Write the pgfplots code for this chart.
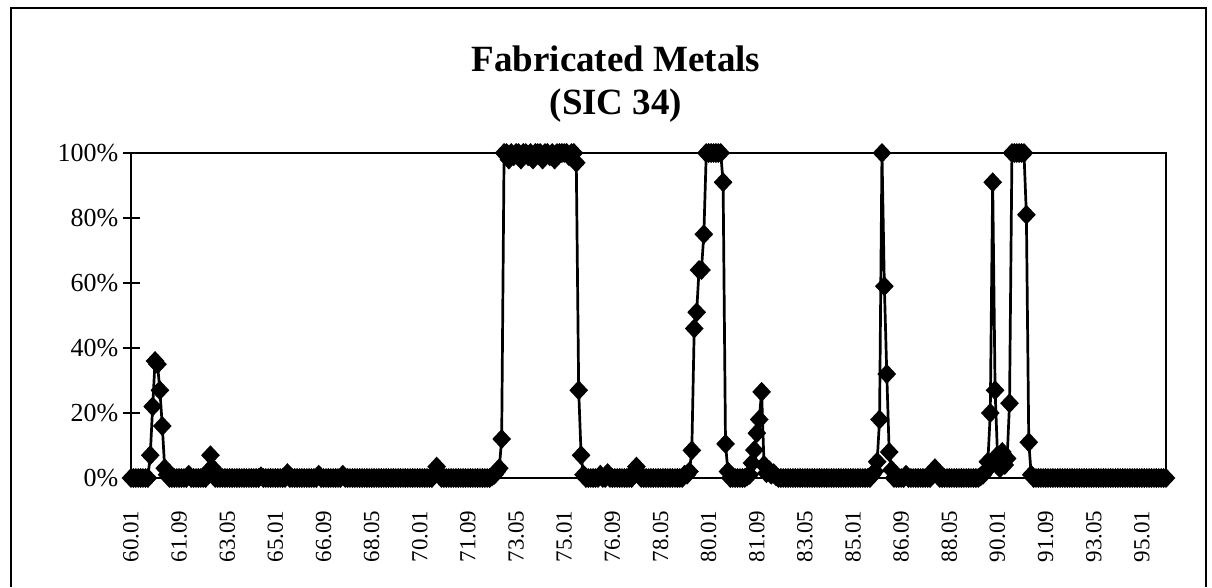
\documentclass[border=0pt]{standalone}
\usepackage{fontspec}
\setmainfont{Liberation Serif}
\usepackage{pgfplots}
\usepackage{pgfplotstable}
\pgfplotsset{compat=1.18}

% monthly share, 60.01 .. 95.11 (one value per month)
\pgfplotstableread[row sep=\\]{
v\\
0\\0\\0\\0\\0\\0\\0\\0\\7\\22\\
36\\35\\27\\16\\3\\1\\0\\0\\0\\0\\
0\\0\\0\\0\\1\\0\\0\\0\\0\\0\\
0\\0\\2\\7\\3\\0\\0\\0\\0\\0\\
0\\0\\0\\0\\0\\0\\0\\0\\0\\0\\
0\\0\\0\\0\\0.5\\0\\0\\0\\0\\0\\
0\\0\\0\\0\\0\\1.5\\0\\0\\0\\0\\
0\\0\\0\\0\\0\\0\\0\\0\\1\\0\\
0\\0\\0\\0\\0\\0\\0\\0\\1\\0\\
0\\0\\0\\0\\0\\0\\0\\0\\0\\0\\
0\\0\\0\\0\\0\\0\\0\\0\\0\\0\\
0\\0\\0\\0\\0\\0\\0\\0\\0\\0\\
0\\0\\0\\0\\0\\0\\1.5\\3.5\\1.5\\0\\
0\\0\\0\\0\\0\\0\\0\\0\\0\\0\\
0\\0\\0\\0\\0\\0\\0\\0\\0\\0\\
0.5\\1\\2\\3\\12\\100\\100\\98\\100\\99\\
100\\100\\98\\100\\100\\99\\100\\98\\100\\100\\
100\\98\\100\\100\\99\\100\\98\\100\\100\\100\\
100\\100\\99\\100\\100\\97\\27\\7\\1\\0\\
0\\0\\0\\0\\0\\1\\0\\0\\1.5\\0\\
0\\0\\0\\0\\0\\0\\0\\0\\0\\2\\
3.5\\1.5\\0\\0\\0\\0\\0\\0\\0\\0\\
0\\0\\0\\0\\0\\0\\0\\0\\0\\0\\
1\\1\\2\\8.5\\46\\51\\64\\64\\75\\100\\
100\\100\\100\\100\\100\\100\\91\\10.5\\2\\0\\
0\\0\\0\\0\\0\\0\\0.5\\1\\4.6\\8.6\\
13.8\\18\\26.5\\4\\1.5\\2.5\\1\\1.5\\0.5\\0\\
0\\0\\0\\0\\0\\0\\0\\0\\0\\0\\
0\\0\\0\\0\\0\\0\\0\\0\\0\\0\\
0\\0\\0\\0\\0\\0\\0\\0\\0\\0\\
0\\0\\0\\0\\0\\0\\0\\0\\1\\2\\
5\\18\\100\\59\\32\\8\\2.5\\0\\0\\0\\
0\\0\\1\\0\\0\\0\\0\\0\\0\\0\\
0\\0\\0\\2\\3\\1.5\\0\\0\\0\\0\\
0\\0\\0\\0\\0\\0\\0\\0\\0\\0\\
0\\0\\0\\0.5\\1\\2\\5\\20\\91\\27\\
7\\3\\8\\4\\6\\23\\100\\100\\100\\100\\
100\\100\\81\\11\\1\\0\\0\\0\\0\\0\\
0\\0\\0\\0\\0\\0\\0\\0\\0\\0\\
0\\0\\0\\0\\0\\0\\0\\0\\0\\0\\
0\\0\\0\\0\\0\\0\\0\\0\\0\\0\\
0\\0\\0\\0\\0\\0\\0\\0\\0\\0\\
0\\0\\0\\0\\0\\0\\0\\0\\0\\0\\
0\\
}\sicdata

\begin{document}
\begin{tikzpicture}
\useasboundingbox (0,0) rectangle (1212pt,587pt);
% chart area frame
\draw[line width=1.5pt] (11pt,0) -- (11pt,579pt) -- (1206pt,579pt) -- (1206pt,0);
\begin{axis}[
    at={(131pt,109pt)}, anchor=south west,
    scale only axis, width=1035pt, height=325pt,
    xmin=0, xmax=430, ymin=0, ymax=100,
    clip=false,
    axis line style={line width=1.8pt},
    xtick={0,20,...,420},
    xticklabels={60.01,61.09,63.05,65.01,66.09,68.05,70.01,71.09,73.05,75.01,76.09,
                 78.05,80.01,81.09,83.05,85.01,86.09,88.05,90.01,91.09,93.05,95.01},
    xtick style={draw=none},
    xticklabel style={rotate=90, anchor=east, inner sep=0pt,
                      font=\fontsize{23}{23}\selectfont},
    xticklabel shift=24pt,
    ytick={0,20,...,100},
    ytick pos=left,
    yticklabel={\pgfmathprintnumber{\tick}\%},
    yticklabel style={inner sep=0pt, font=\fontsize{26}{26}\selectfont},
    yticklabel shift=4pt,
    tick align=center, major tick length=17pt,
    ytick style={line width=1.5pt, black},
    /pgf/number format/assume math mode=true,
    title={Fabricated Metals\\(SIC 34)},
    title style={align=center, at={(0.4686,1)}, anchor=south, inner sep=0pt,
                 yshift=24pt, font=\fontsize{37}{43}\selectfont\bfseries},
]
\addplot[black, line width=2.7pt, mark=diamond*, mark size=8pt,
         mark options={xscale=1.25, solid, fill=black}]
    table[x expr=\coordindex, y=v] {\sicdata};
\end{axis}
\end{tikzpicture}
\end{document}
